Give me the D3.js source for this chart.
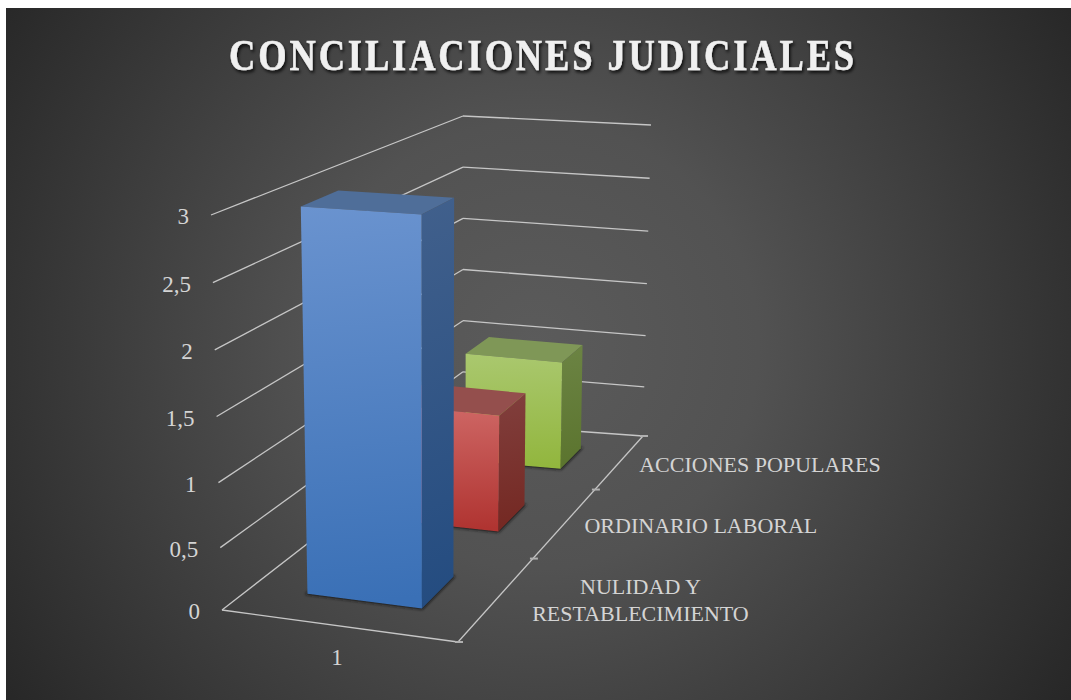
<!DOCTYPE html>
<html>
<head>
  <meta charset="utf-8">
  <title>Conciliaciones judiciales</title>
  <script src="https://d3js.org/d3.v7.min.js"></script>
  <style>
    html, body { margin: 0; padding: 0; background: #fff; overflow: hidden; }
    svg { display: block; }
    text { font-family: "Liberation Serif", serif; }
    .grid { fill: none; stroke: #c6c6c6; stroke-width: 1.3; }
    .tick-dash { fill: none; stroke: #b0b0b0; stroke-width: 2; }
    .label { font-size: 23px; fill: #d4d4d4; }
    .series-label { font-size: 22px; }
  </style>
</head>
<body>
  <svg id="chart" width="1071" height="700"></svg>

  <script>
    // Data
    const title = "CONCILIACIONES JUDICIALES";
    const xCategories = ["1"];
    const seriesNames = ["NULIDAD Y RESTABLECIMIENTO", "ORDINARIO LABORAL", "ACCIONES POPULARES"];
    const seriesLabelLines = [["NULIDAD Y", "RESTABLECIMIENTO"], ["ORDINARIO LABORAL"], ["ACCIONES POPULARES"]];
    const seriesValues = [3, 1, 1];
    const valueTicks = [0, 0.5, 1, 1.5, 2, 2.5, 3];
    const valueTickLabels = ["0", "0,5", "1", "1,5", "2", "2,5", "3"];

    const width = 1071;
    const height = 700;
    const svg = d3.select("#chart");
    const defs = svg.append("defs");

    // Box corners on screen, [x, z, value] each 0 or 1
    const corners = {
      "000": [222, 610], "100": [458, 642], "110": [643, 436], "010": [463, 423],
      "001": [211, 215], "101": [460, 232], "111": [651, 125], "011": [463, 116]
    };

    // Scales into the unit box
    const xScale = d3.scaleBand().domain(xCategories).range([-0.009, 0.991]).padding(1 / 3);
    const depthScale = d3.scaleLinear().domain([0, 1, 2, 3]).range([0, 0.405, 0.74, 1]);
    const valueNear = d3.scalePow().exponent(1.03).domain([0, 3]).range([0, 1]);
    const valueFar = d3.scaleLinear().domain([0, 3]).range([0, 1]);

    // Trilinear projection of the box. The back left corner faces the camera,
    // so the value axis is even there and a little stretched everywhere else.
    function project(u, w, value) {
      const lerp = (a, b, t) => [a[0] + (b[0] - a[0]) * t, a[1] + (b[1] - a[1]) * t];
      const k = w * (1 - u);
      const v = valueNear(value) * (1 - k) + valueFar(value) * k;
      const low = lerp(lerp(corners["000"], corners["100"], u), lerp(corners["010"], corners["110"], u), w);
      const top = lerp(lerp(corners["001"], corners["101"], u), lerp(corners["011"], corners["111"], u), w);
      return lerp(low, top, v);
    }

    const path = d3.line();
    const closed = pts => path(pts) + "Z";

    // Background
    const bg = defs.append("radialGradient").attr("id", "bg")
      .attr("gradientUnits", "userSpaceOnUse")
      .attr("cx", 535).attr("cy", 345).attr("r", 640);
    bg.append("stop").attr("offset", "0%").attr("stop-color", "#5b5b5b");
    bg.append("stop").attr("offset", "35%").attr("stop-color", "#525252");
    bg.append("stop").attr("offset", "100%").attr("stop-color", "#272727");
    svg.append("rect").attr("x", 6).attr("y", 8).attr("width", width - 6).attr("height", height - 8)
      .attr("fill", "url(#bg)");

    const shadow = defs.append("filter").attr("id", "titleShadow")
      .attr("x", "-5%").attr("y", "-20%").attr("width", "110%").attr("height", "150%");
    shadow.append("feDropShadow").attr("dx", 1.5).attr("dy", 2.5).attr("stdDeviation", 1.5)
      .attr("flood-color", "#000").attr("flood-opacity", 0.8);
    defs.append("filter").attr("id", "floorBlur")
      .attr("x", "-20%").attr("y", "-20%").attr("width", "140%").attr("height", "140%")
      .append("feGaussianBlur").attr("stdDeviation", 1.6);

    svg.append("text")
      .attr("x", 543).attr("y", 70)
      .attr("text-anchor", "middle")
      .attr("textLength", 628).attr("lengthAdjust", "spacingAndGlyphs")
      .attr("filter", "url(#titleShadow)")
      .style("font-size", "44px").style("font-weight", "bold").style("letter-spacing", "3.5px")
      .style("fill", "#f0f0f0").style("stroke", "#f0f0f0").style("stroke-width", 0.5)
      .text(title);

    // Walls
    const grid = svg.append("g");
    grid.selectAll(".back").data(valueTicks).enter().append("path")
      .attr("class", "grid")
      .attr("d", d => path([project(0, 1, d), project(1, 1, d)]));
    grid.selectAll(".side").data(valueTicks).enter().append("path")
      .attr("class", "grid")
      .attr("d", d => path([project(0, 0, d), project(0, 1, d)]));

    // Floor front edge and depth axis
    grid.append("path").attr("class", "grid").attr("d", path([project(0, 0, 0), project(1, 0, 0)]));
    grid.append("path").attr("class", "grid").attr("d", path([project(1, 0, 0), project(1, 1, 0)]));
    grid.selectAll(".tick-dash").data(depthScale.domain()).enter().append("path")
      .attr("class", "tick-dash")
      .attr("d", d => {
        const p = project(1, depthScale(d), 0);
        return path([[p[0] - 3, p[1]], [p[0] + 5, p[1]]]);
      });

    // Value labels
    svg.selectAll(".value-label").data(valueTicks).enter().append("text")
      .attr("class", "label")
      .attr("text-anchor", "end")
      .attr("x", d => project(0, 0, d)[0] - 22)
      .attr("y", d => project(0, 0, d)[1] + 9)
      .text((d, i) => valueTickLabels[i]);

    // Category label
    svg.append("text").attr("class", "label").attr("text-anchor", "middle")
      .attr("x", project(xScale("1") + xScale.bandwidth() / 2, 0, 0)[0] - 1)
      .attr("y", 665)
      .text(xCategories[0]);

    // Series labels, nudged a little since the depth axis is not even
    const labelNudge = [145, 137, 141];
    const seriesLabels = svg.selectAll(".series-label").data(seriesLabelLines).enter().append("text")
      .attr("class", "label series-label").attr("text-anchor", "middle");
    seriesLabels.selectAll("tspan").data((lines, i) => lines.map((t, j) => ({
      t, i, j, n: lines.length
    }))).enter().append("tspan")
      .attr("x", d => project(1, depthScale(d.i + 0.5), 0)[0] + labelNudge[d.i])
      .attr("y", d => project(1, depthScale(d.i + 0.5), 0)[1] + (d.n > 1 ? -6 : 9) + d.j * 27)
      .text(d => d.t);

    // Bar palettes per series
    const palettes = [
      { top: "#4f6e99", frontA: "#6a93cf", frontB: "#3a70b6", sideA: "#41608c", sideB: "#244c80" },
      { top: "#944f4d", frontA: "#cf6866", frontB: "#b03431", sideA: "#813f3d", sideB: "#742822" },
      { top: "#7f9757", frontA: "#aac86f", frontB: "#92b63e", sideA: "#6c8444", sideB: "#5b742e" }
    ];
    palettes.forEach((p, i) => {
      [["front", p.frontA, p.frontB], ["side", p.sideA, p.sideB]].forEach(([name, a, b]) => {
        const g = defs.append("linearGradient").attr("id", `${name}${i}`)
          .attr("x1", 0).attr("y1", 0).attr("x2", 0.03).attr("y2", 1);
        g.append("stop").attr("offset", "0%").attr("stop-color", a);
        g.append("stop").attr("offset", "100%").attr("stop-color", b);
      });
    });

    // Bars: back series first so nearer ones cover them
    const order = d3.range(seriesValues.length).reverse();
    const bars = svg.selectAll(".bar").data(order).enter().append("g").attr("class", "bar");
    const x0 = xScale("1");
    const x1 = xScale("1") + xScale.bandwidth();
    const z0 = i => depthScale(i + 0.31);
    const z1 = i => depthScale(i + 0.7);
    const val = i => seriesValues[i];

    bars.append("path")
      .attr("d", i => closed([project(x0, z0(i), 0), project(x1, z0(i), 0), project(x1, z1(i), 0), project(x0, z1(i), 0)]))
      .attr("fill", "#141414").attr("fill-opacity", 0.85)
      .attr("stroke", "#141414").attr("stroke-width", 2)
      .attr("filter", "url(#floorBlur)");
    bars.append("path")
      .attr("d", i => closed([project(x0, z0(i), val(i)), project(x1, z0(i), val(i)), project(x1, z1(i), val(i)), project(x0, z1(i), val(i))]))
      .attr("fill", i => palettes[i].top);
    bars.append("path")
      .attr("d", i => closed([project(x1, z0(i), 0), project(x1, z1(i), 0), project(x1, z1(i), val(i)), project(x1, z0(i), val(i))]))
      .attr("fill", i => `url(#side${i})`);
    bars.append("path")
      .attr("d", i => closed([project(x0, z0(i), 0), project(x1, z0(i), 0), project(x1, z0(i), val(i)), project(x0, z0(i), val(i))]))
      .attr("fill", i => `url(#front${i})`);
  </script>
</body>
</html>
